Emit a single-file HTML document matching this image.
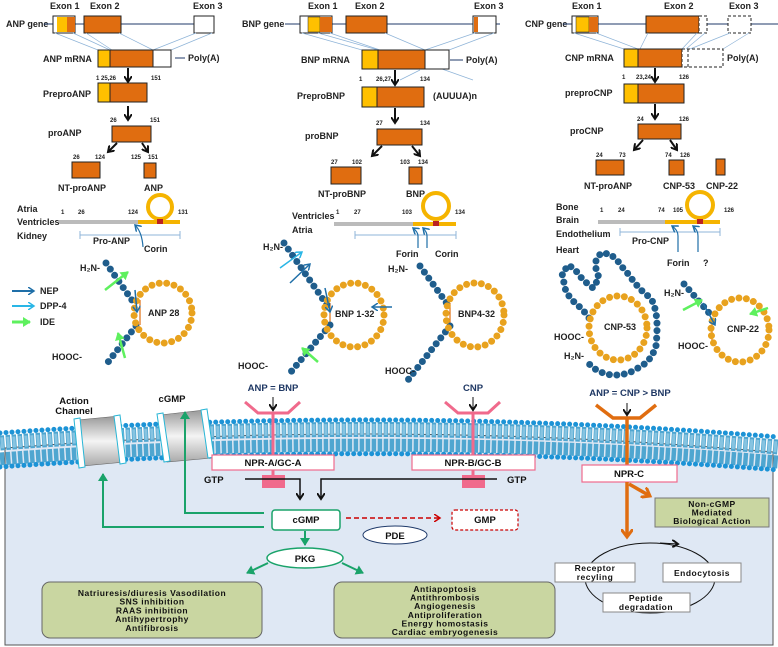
<!DOCTYPE html>
<html><head><meta charset="utf-8"><style>
html,body{margin:0;padding:0;background:#fff}
svg{display:block}
text{font-family:"Liberation Sans",sans-serif}
.l{font-size:9px;font-weight:bold;fill:#222}
.n{font-size:6px;font-weight:bold;fill:#222}
.b{font-size:9.5px;font-weight:bold;fill:#111}
.g{font-size:8.5px;font-weight:bold;fill:#111;letter-spacing:0.5px}
.or{fill:#e06d10;stroke:#222;stroke-width:1}
.ye{fill:#ffc000;stroke:#222;stroke-width:1}
.wh{fill:#fff;stroke:#222;stroke-width:1}
.thin{stroke:#8fb4d8;stroke-width:.7;fill:none}
.bl{fill:none;stroke:#1f5d8c;stroke-width:7;stroke-linecap:round;stroke-dasharray:0 7.5}
.og{fill:none;stroke:#e8a21e;stroke-width:7;stroke-linecap:round;stroke-dasharray:0 7.5}
</style></head><body>
<svg width="778" height="647" viewBox="0 0 778 647" xmlns="http://www.w3.org/2000/svg">
<defs>
<marker id="ak" markerWidth="8" markerHeight="8" refX="6" refY="4" orient="auto" markerUnits="userSpaceOnUse"><path d="M0,0 L6,4 L0,8" fill="none" stroke="#111" stroke-width="2"/></marker>
<marker id="ag" markerWidth="10" markerHeight="10" refX="7" refY="5" orient="auto" markerUnits="userSpaceOnUse"><path d="M0,0 L8,5 L0,10z" fill="#1aa36a"/></marker>
<marker id="ao" markerWidth="12" markerHeight="12" refX="8" refY="6" orient="auto" markerUnits="userSpaceOnUse"><path d="M0,0 L8,6 L0,12" fill="none" stroke="#e06d10" stroke-width="3"/></marker>
<marker id="ar" markerWidth="8" markerHeight="8" refX="6" refY="4" orient="auto" markerUnits="userSpaceOnUse"><path d="M0,0 L6,4 L0,8" fill="none" stroke="#c00" stroke-width="1.5"/></marker>
<marker id="ab" markerWidth="8" markerHeight="8" refX="6" refY="4" orient="auto" markerUnits="userSpaceOnUse"><path d="M0,0 L6,4 L0,8" fill="none" stroke="#1f6fa8" stroke-width="1.5"/></marker>
<marker id="ac" markerWidth="8" markerHeight="8" refX="6" refY="4" orient="auto" markerUnits="userSpaceOnUse"><path d="M0,0 L6,4 L0,8" fill="none" stroke="#29b6e6" stroke-width="1.5"/></marker>
<marker id="ae" markerWidth="10" markerHeight="10" refX="7" refY="5" orient="auto" markerUnits="userSpaceOnUse"><path d="M0,0 L8,5 L0,10z" fill="#5ef05e"/></marker>
</defs>

<!-- ===== ANP column ===== -->
<text class="l" x="50" y="9">Exon 1</text><text class="l" x="90" y="9">Exon 2</text><text class="l" x="193" y="9">Exon 3</text>
<text class="l" x="6" y="27">ANP gene</text>
<line x1="44" y1="24" x2="214" y2="24" stroke="#1f3a6a" stroke-width="1"/>
<rect class="wh" x="53" y="16" width="22" height="17"/><rect x="57" y="17" width="10" height="15" fill="#ffc000"/><rect x="67" y="17" width="8" height="15" fill="#e06d10"/>
<rect class="or" x="84" y="16" width="37" height="17"/><rect class="wh" x="194" y="16" width="20" height="17"/>
<path class="thin" d="M55,33 L98,50 M73,33 L110,50 M86,33 L112,50 M119,33 L153,50 M196,33 L153,50 M212,33 L171,50"/>
<text class="l" x="43" y="62">ANP mRNA</text>
<rect class="or" x="98" y="50" width="73" height="17"/><rect class="ye" x="98" y="50" width="12" height="17"/><rect class="wh" x="153" y="50" width="18" height="17"/>
<line x1="175" y1="58" x2="185" y2="58" stroke="#1f3a6a"/><text class="l" x="188" y="61">Poly(A)</text>
<text class="n" x="96" y="80">1  25,26</text><text class="n" x="151" y="80">151</text>
<line x1="128" y1="68" x2="128" y2="82" stroke="#111" stroke-width="2" marker-end="url(#ak)"/>
<text class="l" x="43" y="97">PreproANP</text>
<rect class="or" x="98" y="83" width="49" height="19"/><rect class="ye" x="98" y="83" width="12" height="19"/>
<line x1="128" y1="106" x2="128" y2="120" stroke="#111" stroke-width="2" marker-end="url(#ak)"/>
<text class="n" x="110" y="122">26</text><text class="n" x="150" y="122">151</text>
<text class="l" x="48" y="136">proANP</text>
<rect class="or" x="112" y="126" width="39" height="16"/>
<line x1="117" y1="143" x2="108" y2="152" stroke="#111" stroke-width="2" marker-end="url(#ak)"/>
<line x1="142" y1="143" x2="148" y2="152" stroke="#111" stroke-width="2" marker-end="url(#ak)"/>
<text class="n" x="73" y="159">26</text><text class="n" x="95" y="159">124</text><text class="n" x="131" y="159">125</text><text class="n" x="148" y="159">151</text>
<rect class="or" x="72" y="162" width="28" height="16"/><rect class="or" x="144" y="163" width="12" height="15"/>
<text class="l" x="58" y="191">NT-proANP</text><text class="l" x="144" y="191">ANP</text>
<text class="l" x="17" y="212">Atria</text><text class="l" x="17" y="225">Ventricles</text><text class="l" x="17" y="239">Kidney</text>
<text class="n" x="61" y="214">1</text><text class="n" x="78" y="214">26</text><text class="n" x="128" y="214">124</text><text class="n" x="178" y="214">131</text>
<rect x="59" y="220" width="80" height="4" fill="#bbb"/><rect x="138" y="220" width="42" height="4" fill="#f5b400"/>
<circle cx="160" cy="207" r="12" fill="none" stroke="#f5b400" stroke-width="4"/><rect x="157" y="219" width="6" height="5" fill="#b22"/>
<line x1="80" y1="235" x2="180" y2="235" stroke="#8fb4d8"/><line x1="80" y1="231" x2="80" y2="239" stroke="#8fb4d8"/><line x1="180" y1="231" x2="180" y2="239" stroke="#8fb4d8"/>
<text class="l" x="93" y="244">Pro-ANP</text>
<path d="M143,247 Q142,232 135,225" fill="none" stroke="#1f6fa8" stroke-width="1.2" marker-end="url(#ab)"/>
<text class="l" x="144" y="252">Corin</text>

<!-- ===== BNP column ===== -->
<text class="l" x="308" y="9">Exon 1</text><text class="l" x="355" y="9">Exon 2</text><text class="l" x="474" y="9">Exon 3</text>
<text class="l" x="242" y="27">BNP gene</text>
<line x1="285" y1="24" x2="500" y2="24" stroke="#1f3a6a"/>
<rect class="wh" x="300" y="16" width="32" height="17"/><rect x="308" y="17" width="12" height="15" fill="#ffc000" stroke="#222" stroke-width=".5"/><rect x="320" y="17" width="12" height="15" fill="#e06d10"/>
<rect class="or" x="346" y="16" width="41" height="17"/><rect class="wh" x="473" y="16" width="23" height="17"/><rect x="474" y="17" width="4" height="15" fill="#e06d10"/>
<path class="thin" d="M302,33 L362,50 M318,33 L378,50 M330,33 L380,50 M385,33 L425,50 M475,33 L425,50 M494,33 L449,50 M442,69 L473,80 M420,70 L400,80"/>
<text class="l" x="301" y="63">BNP mRNA</text>
<rect class="or" x="362" y="50" width="87" height="19"/><rect class="ye" x="362" y="50" width="16" height="19"/><rect class="wh" x="425" y="50" width="24" height="19"/>
<line x1="450" y1="60" x2="463" y2="60" stroke="#1f3a6a"/><text class="l" x="466" y="63">Poly(A)</text>
<text class="n" x="359" y="81">1</text><text class="n" x="376" y="81">26,27</text><text class="n" x="420" y="81">134</text>
<line x1="395" y1="70" x2="395" y2="85" stroke="#111" stroke-width="2" marker-end="url(#ak)"/>
<text class="l" x="297" y="99">PreproBNP</text><text class="l" x="433" y="99">(AUUUA)n</text>
<rect class="or" x="362" y="87" width="62" height="20"/><rect class="ye" x="362" y="87" width="15" height="20"/>
<line x1="395" y1="108" x2="395" y2="123" stroke="#111" stroke-width="2" marker-end="url(#ak)"/>
<text class="n" x="376" y="125">27</text><text class="n" x="420" y="125">134</text>
<text class="l" x="305" y="139">proBNP</text>
<rect class="or" x="377" y="129" width="45" height="16"/>
<line x1="382" y1="146" x2="372" y2="156" stroke="#111" stroke-width="2" marker-end="url(#ak)"/>
<line x1="412" y1="146" x2="420" y2="156" stroke="#111" stroke-width="2" marker-end="url(#ak)"/>
<text class="n" x="331" y="164">27</text><text class="n" x="352" y="164">102</text><text class="n" x="400" y="164">103</text><text class="n" x="418" y="164">134</text>
<rect class="or" x="331" y="167" width="30" height="17"/><rect class="or" x="409" y="167" width="13" height="17"/>
<text class="l" x="318" y="197">NT-proBNP</text><text class="l" x="406" y="197">BNP</text>
<text class="l" x="292" y="219">Ventricles</text><text class="l" x="292" y="233">Atria</text>
<text class="n" x="336" y="214">1</text><text class="n" x="354" y="214">27</text><text class="n" x="402" y="214">103</text><text class="n" x="455" y="214">134</text>
<rect x="334" y="222" width="80" height="4" fill="#bbb"/><rect x="413" y="222" width="43" height="4" fill="#f5b400"/>
<circle cx="436" cy="206" r="13" fill="none" stroke="#f5b400" stroke-width="4"/><rect x="433" y="221" width="6" height="5" fill="#b22"/>
<line x1="355" y1="235" x2="456" y2="235" stroke="#8fb4d8"/><line x1="355" y1="231" x2="355" y2="239" stroke="#8fb4d8"/><line x1="456" y1="231" x2="456" y2="239" stroke="#8fb4d8"/>
<path d="M418,248 L418,236 Q418,232 413,228" fill="none" stroke="#1f6fa8" stroke-width="1.2" marker-end="url(#ab)"/>
<path d="M427,248 L427,236 Q427,232 423,228" fill="none" stroke="#1f6fa8" stroke-width="1.2" marker-end="url(#ab)"/>
<text class="l" x="396" y="257">Forin</text><text class="l" x="435" y="257">Corin</text>

<!-- ===== CNP column ===== -->
<text class="l" x="572" y="9">Exon 1</text><text class="l" x="664" y="9">Exon 2</text><text class="l" x="729" y="9">Exon 3</text>
<text class="l" x="525" y="27">CNP gene</text>
<line x1="563" y1="24" x2="778" y2="24" stroke="#1f3a6a"/>
<rect class="wh" x="572" y="16" width="26" height="17"/><rect x="576" y="17" width="13" height="15" fill="#ffc000" stroke="#222" stroke-width=".5"/><rect x="589" y="17" width="9" height="15" fill="#e06d10"/>
<rect class="or" x="646" y="16" width="53" height="17"/><rect x="699" y="16" width="8" height="17" fill="#fff" stroke="#222" stroke-dasharray="3 2"/>
<rect x="728" y="16" width="23" height="17" fill="#fff" stroke="#222" stroke-dasharray="3 2"/>
<path class="thin" d="M574,33 L624,49 M596,33 L638,49 M648,33 L640,49 M697,33 L682,49 M705,33 L686,49 M730,33 L690,49 M749,33 L723,49"/>
<text class="l" x="565" y="61">CNP mRNA</text>
<rect class="or" x="624" y="49" width="58" height="18"/><rect class="ye" x="624" y="49" width="14" height="18"/>
<rect x="682" y="49" width="41" height="18" fill="#fff" stroke="#222" stroke-dasharray="3 2"/><line x1="688" y1="49" x2="688" y2="67" stroke="#222" stroke-dasharray="3 2"/>
<text class="l" x="727" y="61">Poly(A)</text>
<text class="n" x="622" y="79">1</text><text class="n" x="636" y="79">23,24</text><text class="n" x="679" y="79">126</text>
<line x1="655" y1="68" x2="655" y2="82" stroke="#111" stroke-width="2" marker-end="url(#ak)"/>
<text class="l" x="565" y="96">preproCNP</text>
<rect class="or" x="624" y="84" width="60" height="19"/><rect class="ye" x="624" y="84" width="14" height="19"/>
<line x1="655" y1="104" x2="655" y2="119" stroke="#111" stroke-width="2" marker-end="url(#ak)"/>
<text class="n" x="637" y="121">24</text><text class="n" x="679" y="121">126</text>
<text class="l" x="570" y="134">proCNP</text>
<rect class="or" x="638" y="124" width="43" height="15"/>
<line x1="643" y1="140" x2="634" y2="150" stroke="#111" stroke-width="2" marker-end="url(#ak)"/>
<line x1="670" y1="140" x2="677" y2="150" stroke="#111" stroke-width="2" marker-end="url(#ak)"/>
<text class="n" x="596" y="157">24</text><text class="n" x="619" y="157">73</text><text class="n" x="665" y="157">74</text><text class="n" x="680" y="157">126</text>
<rect class="or" x="596" y="160" width="28" height="15"/><rect class="or" x="669" y="160" width="15" height="15"/><rect class="or" x="716" y="159" width="9" height="16"/>
<text class="l" x="584" y="189">NT-proANP</text><text class="l" x="663" y="189">CNP-53</text><text class="l" x="706" y="189">CNP-22</text>
<text class="l" x="556" y="210">Bone</text><text class="l" x="556" y="223">Brain</text><text class="l" x="556" y="237">Endothelium</text><text class="l" x="556" y="253">Heart</text>
<text class="n" x="600" y="212">1</text><text class="n" x="618" y="212">24</text><text class="n" x="658" y="212">74</text><text class="n" x="673" y="212">105</text><text class="n" x="724" y="212">126</text>
<rect x="598" y="220" width="68" height="4" fill="#bbb"/><rect x="665" y="220" width="55" height="4" fill="#f5b400"/>
<circle cx="700" cy="205" r="13" fill="none" stroke="#f5b400" stroke-width="4"/><rect x="697" y="219" width="6" height="5" fill="#b22"/>
<line x1="620" y1="232" x2="720" y2="232" stroke="#8fb4d8"/><line x1="620" y1="228" x2="620" y2="236" stroke="#8fb4d8"/><line x1="720" y1="228" x2="720" y2="236" stroke="#8fb4d8"/>
<text class="l" x="632" y="244">Pro-CNP</text>
<path d="M678,252 L678,236 Q678,230 672,226" fill="none" stroke="#1f6fa8" stroke-width="1.2" marker-end="url(#ab)"/>
<path d="M698,252 L698,236 Q698,230 693,226" fill="none" stroke="#1f6fa8" stroke-width="1.2" marker-end="url(#ab)"/>
<text class="l" x="667" y="266">Forin</text><text class="l" x="703" y="266">?</text>

<!-- ===== legend ===== -->
<line x1="12" y1="291" x2="34" y2="291" stroke="#1f6fa8" stroke-width="2" marker-end="url(#ab)"/><text class="l" x="40" y="294">NEP</text>
<line x1="12" y1="306" x2="34" y2="306" stroke="#29b6e6" stroke-width="2" marker-end="url(#ac)"/><text class="l" x="40" y="309">DPP-4</text>
<line x1="12" y1="322" x2="30" y2="322" stroke="#5ef05e" stroke-width="3" marker-end="url(#ae)"/><text class="l" x="40" y="325">IDE</text>

<!-- ===== peptides ===== -->
<line x1="140" y1="300" x2="140" y2="325" stroke="#e06d10" stroke-width="1.2"/>
<path class="bl" d="M106,263 L134,303"/><path class="bl" d="M136,326 L105,366"/>
<ellipse class="og" cx="163" cy="313" rx="29" ry="30"/>
<text class="l" x="80" y="271">H₂N-</text><text class="l" x="52" y="360">HOOC-</text>
<text class="l" x="148" y="316">ANP 28</text>
<line x1="105" y1="290" x2="128" y2="272" stroke="#5ef05e" stroke-width="2.5" marker-end="url(#ae)"/>
<line x1="135" y1="290" x2="137" y2="312" stroke="#1f6fa8" stroke-width="1.5" marker-end="url(#ab)"/>
<line x1="125" y1="358" x2="118" y2="333" stroke="#5ef05e" stroke-width="2.5" marker-end="url(#ae)"/>
<line x1="330" y1="303" x2="330" y2="325" stroke="#e06d10" stroke-width="1.2"/>
<path class="bl" d="M284,243 L327,305"/><path class="bl" d="M330,325 L290,373"/>
<ellipse class="og" cx="354" cy="315" rx="30" ry="32"/>
<text class="l" x="263" y="250">H₂N-</text><text class="l" x="238" y="369">HOOC-</text>
<text class="l" x="335" y="317">BNP 1-32</text>
<line x1="280" y1="268" x2="302" y2="252" stroke="#29b6e6" stroke-width="1.5" marker-end="url(#ac)"/>
<line x1="290" y1="283" x2="310" y2="264" stroke="#1f6fa8" stroke-width="1.5" marker-end="url(#ab)"/>
<line x1="325" y1="288" x2="330" y2="312" stroke="#1f6fa8" stroke-width="1.5" marker-end="url(#ab)"/>
<line x1="392" y1="307" x2="372" y2="307" stroke="#1f6fa8" stroke-width="1.5" marker-end="url(#ab)"/>
<line x1="318" y1="362" x2="302" y2="348" stroke="#5ef05e" stroke-width="2.5" marker-end="url(#ae)"/>
<line x1="450" y1="303" x2="450" y2="325" stroke="#e06d10" stroke-width="1.2"/>
<path class="bl" d="M420,266 L448,305"/><path class="bl" d="M450,326 L408,380"/>
<ellipse class="og" cx="475" cy="315" rx="29" ry="32"/>
<text class="l" x="388" y="272">H₂N-</text><text class="l" x="385" y="374">HOOC-</text>
<text class="l" x="458" y="317">BNP4-32</text>
<path class="bl" d="M589,318 L583,310 L572,300 L566,292 L564,283 L562,273 L569,265 L577,272 L583,280 L593,288 L599,278 L596,269 L596,260 L601,253 L610,254 L617,260 L623,268 L629,275 L634,282 L641,290 L648,296 L653,302 L656,312 L657,322 L657,334 L656,346 L652,356 L646,363 L638,368 L629,373 L620,375 L611,375 L603,373 L595,369 L588,363"/>
<ellipse class="og" cx="618" cy="328" rx="29" ry="32"/>
<text class="l" x="554" y="340">HOOC-</text><text class="l" x="564" y="359">H₂N-</text>
<text class="l" x="604" y="330">CNP-53</text>
<line x1="712" y1="318" x2="712" y2="342" stroke="#e06d10" stroke-width="1.2"/>
<path class="bl" d="M684,284 L710,314"/>
<ellipse class="og" cx="740" cy="330" rx="29" ry="32"/>
<text class="l" x="664" y="296">H₂N-</text><text class="l" x="678" y="349">HOOC-</text>
<text class="l" x="727" y="332">CNP-22</text>
<line x1="683" y1="310" x2="702" y2="300" stroke="#5ef05e" stroke-width="2.5" marker-end="url(#ae)"/>
<line x1="703" y1="303" x2="715" y2="325" stroke="#1f6fa8" stroke-width="1.5" marker-end="url(#ab)"/>
<line x1="768" y1="308" x2="750" y2="314" stroke="#5ef05e" stroke-width="2.5" marker-end="url(#ae)"/>

<!-- ===== cell ===== -->
<path d="M5,448 Q389,418 773,452 L773,645 L5,645 Z" fill="#dfe8f4" stroke="#555" stroke-width="1"/>
<path d="M0,443 Q389,414 778,447" fill="none" stroke="#4fa6d0" stroke-width="15" stroke-dasharray="4.5 1.5"/>
<path d="M0,443 Q389,414 778,447" fill="none" stroke="#bfe1f2" stroke-width="11" stroke-dasharray="3 3" stroke-dashoffset="-0.7" opacity=".5"/>
<path d="M0,459 Q389,430 778,462" fill="none" stroke="#4fa6d0" stroke-width="13" stroke-dasharray="4.5 1.5"/>
<path d="M0,433 Q389,405 778,437" fill="none" stroke="#1c93d6" stroke-width="5" stroke-linecap="round" stroke-dasharray="0 6"/>
<path d="M0,467 Q389,439 778,470" fill="none" stroke="#1c93d6" stroke-width="5" stroke-linecap="round" stroke-dasharray="0 6"/>
<defs><linearGradient id="gr" x1="0" x2="0" y1="0" y2="1"><stop offset="0" stop-color="#999"/><stop offset=".5" stop-color="#f4f4f4"/><stop offset="1" stop-color="#aaa"/></linearGradient></defs>
<polygon points="77,420 120,416 125,462 82,466" fill="url(#gr)" stroke="#666" stroke-width=".6"/>
<polygon points="74,419 80,418 85,467 79,468" fill="#fff" stroke="#29b6d6"/>
<polygon points="114,416 120,415 126,463 120,464" fill="#fff" stroke="#29b6d6"/>
<polygon points="160,415 205,410 212,458 167,462" fill="url(#gr)" stroke="#666" stroke-width=".6"/>
<polygon points="157,414 163,413 170,461 164,462" fill="#fff" stroke="#29b6d6"/>
<polygon points="201,410 207,409 214,457 208,458" fill="#fff" stroke="#29b6d6"/>
<text class="b" x="74" y="404" text-anchor="middle">Action</text><text class="b" x="74" y="414" text-anchor="middle">Channel</text>
<text class="b" x="172" y="402" text-anchor="middle">cGMP</text>
<text class="b" x="273" y="391" text-anchor="middle" style="fill:#1f3864">ANP = BNP</text>
<text class="b" x="473" y="391" text-anchor="middle" style="fill:#1f3864">CNP</text>
<text class="b" x="630" y="396" text-anchor="middle" style="fill:#1f3864">ANP = CNP &gt; BNP</text>
<path d="M245,402 L258,413 L288,413 L300,402" fill="none" stroke="#f06a8c" stroke-width="3"/>
<line x1="273" y1="413" x2="273" y2="455" stroke="#f06a8c" stroke-width="3"/>
<line x1="273" y1="397" x2="273" y2="410" stroke="#111" stroke-width="1" marker-end="url(#ak)"/>
<rect x="212" y="455" width="122" height="15" fill="#fff" stroke="#f06a8c" stroke-width="1.2"/>
<text class="b" x="273" y="466" text-anchor="middle">NPR-A/GC-A</text>
<rect x="262" y="475" width="23" height="13" fill="#f06a8c"/><line x1="273" y1="470" x2="273" y2="475" stroke="#f06a8c" stroke-width="3"/>
<path d="M445,402 L458,413 L488,413 L500,402" fill="none" stroke="#f06a8c" stroke-width="3"/>
<line x1="473" y1="413" x2="473" y2="455" stroke="#f06a8c" stroke-width="3"/>
<line x1="473" y1="397" x2="473" y2="410" stroke="#111" stroke-width="1" marker-end="url(#ak)"/>
<rect x="412" y="455" width="123" height="15" fill="#fff" stroke="#f06a8c" stroke-width="1.2"/>
<text class="b" x="473" y="466" text-anchor="middle">NPR-B/GC-B</text>
<rect x="462" y="475" width="23" height="13" fill="#f06a8c"/><line x1="473" y1="470" x2="473" y2="475" stroke="#f06a8c" stroke-width="3"/>
<text class="b" x="204" y="483">GTP</text><text class="b" x="507" y="483">GTP</text>
<path d="M245,479 L300,479 L300,499" fill="none" stroke="#111" stroke-width="1.5" marker-end="url(#ak)"/>
<path d="M497,479 L321,479 L321,499" fill="none" stroke="#111" stroke-width="1.5" marker-end="url(#ak)"/>
<path d="M596,405 L613,418 L640,418 L656,405" fill="none" stroke="#e06d10" stroke-width="3.5"/>
<line x1="627" y1="418" x2="627" y2="465" stroke="#e06d10" stroke-width="3.5"/>
<line x1="627" y1="403" x2="627" y2="415" stroke="#111" stroke-width="1" marker-end="url(#ak)"/>
<rect x="582" y="465" width="95" height="17" fill="#fff" stroke="#f06a8c" stroke-width="1.2"/>
<text class="b" x="629" y="477" text-anchor="middle">NPR-C</text>
<line x1="627" y1="482" x2="627" y2="537" stroke="#e06d10" stroke-width="3.5" marker-end="url(#ao)"/>
<line x1="629" y1="484" x2="650" y2="496" stroke="#e06d10" stroke-width="3.5" marker-end="url(#ao)"/>
<rect x="655" y="498" width="114" height="29" fill="#c9d6a1" stroke="#777"/>
<text class="g" x="712" y="507" text-anchor="middle">Non-cGMP</text>
<text class="g" x="712" y="515.5" text-anchor="middle">Mediated</text>
<text class="g" x="712" y="524" text-anchor="middle">Biological Action</text>
<ellipse cx="650" cy="578" rx="65" ry="35" fill="none" stroke="#111" stroke-width="1"/>
<path d="M660,543 L678,544" fill="none" stroke="#111" stroke-width="1" marker-end="url(#ak)"/>
<rect x="555" y="563" width="80" height="19" fill="#fff" stroke="#888"/>
<text class="g" x="595" y="571" text-anchor="middle">Receptor</text><text class="g" x="595" y="580" text-anchor="middle">recyling</text>
<rect x="663" y="563" width="78" height="19" fill="#fff" stroke="#888"/>
<text class="g" x="702" y="576" text-anchor="middle">Endocytosis</text>
<rect x="603" y="593" width="87" height="19" fill="#fff" stroke="#888"/>
<text class="g" x="646" y="601" text-anchor="middle">Peptide</text><text class="g" x="646" y="610" text-anchor="middle">degradation</text>
<rect x="272" y="510" width="68" height="20" rx="3" fill="#fff" stroke="#1aa36a" stroke-width="1.5"/>
<text class="b" x="306" y="523" text-anchor="middle">cGMP</text>
<line x1="346" y1="518" x2="440" y2="518" stroke="#c00" stroke-width="1.5" stroke-dasharray="5 3" marker-end="url(#ar)"/>
<rect x="452" y="510" width="66" height="20" rx="3" fill="#fff" stroke="#c00" stroke-width="1.2" stroke-dasharray="3 2"/>
<text class="b" x="485" y="523" text-anchor="middle">GMP</text>
<ellipse cx="395" cy="535" rx="32" ry="9" fill="#fff" stroke="#1f3a6a"/><text class="b" x="395" y="539" text-anchor="middle">PDE</text>
<line x1="305" y1="531" x2="305" y2="545" stroke="#1aa36a" stroke-width="2" marker-end="url(#ag)"/>
<ellipse cx="305" cy="558" rx="38" ry="10" fill="#fff" stroke="#1aa36a" stroke-width="1.5"/><text class="b" x="305" y="562" text-anchor="middle">PKG</text>
<line x1="268" y1="563" x2="247" y2="573" stroke="#1aa36a" stroke-width="2" marker-end="url(#ag)"/>
<line x1="342" y1="563" x2="363" y2="573" stroke="#1aa36a" stroke-width="2" marker-end="url(#ag)"/>
<path d="M264,513 L185,513 L185,412" fill="none" stroke="#1aa36a" stroke-width="2" marker-end="url(#ag)"/>
<path d="M264,527 L103,527 L103,474" fill="none" stroke="#1aa36a" stroke-width="2" marker-end="url(#ag)"/>
<rect x="42" y="582" width="220" height="56" rx="8" fill="#c9d6a1" stroke="#666"/>
<g class="g" text-anchor="middle">
<text x="152" y="596">Natriuresis/diuresis  Vasodilation</text>
<text x="152" y="604.7">SNS inhibition</text>
<text x="152" y="613.4">RAAS inhibition</text>
<text x="152" y="622.1">Antihypertrophy</text>
<text x="152" y="630.8">Antifibrosis</text>
</g>
<rect x="334" y="582" width="221" height="56" rx="8" fill="#c9d6a1" stroke="#666"/>
<g class="g" text-anchor="middle">
<text x="445" y="592">Antiapoptosis</text>
<text x="445" y="600.6">Antithrombosis</text>
<text x="445" y="609.2">Angiogenesis</text>
<text x="445" y="617.8">Antiproliferation</text>
<text x="445" y="626.4">Energy homostasis</text>
<text x="445" y="635">Cardiac embryogenesis</text>
</g>
</svg>
</body></html>
